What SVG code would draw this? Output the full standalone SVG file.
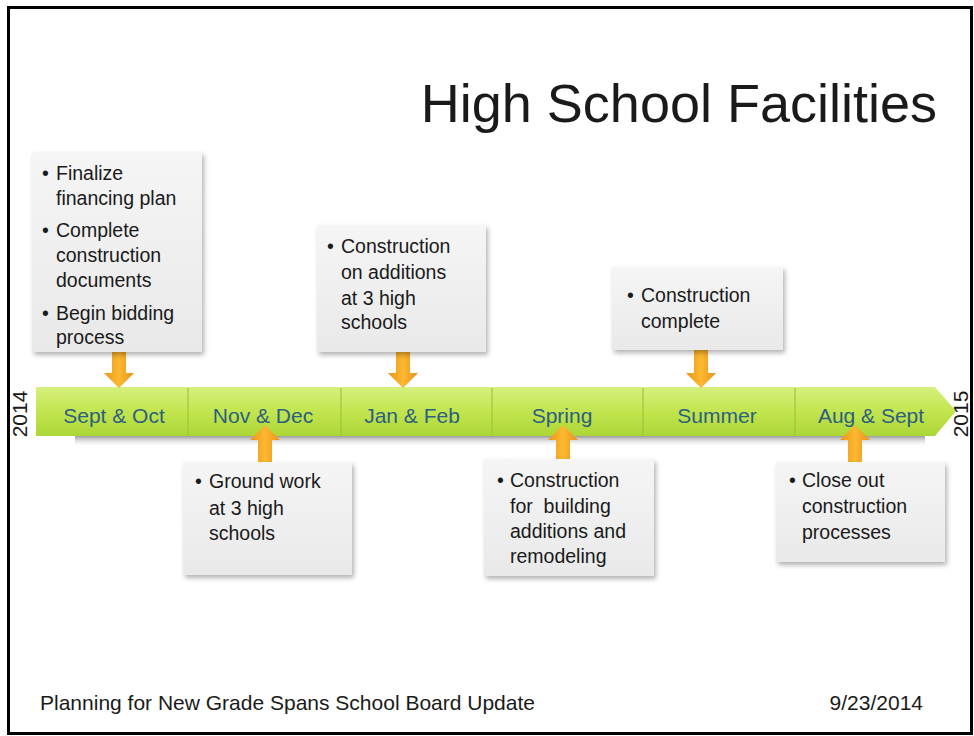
<svg xmlns="http://www.w3.org/2000/svg" width="974" height="736" viewBox="0 0 974 736">
<defs>
<style>
.t{font-family:"Liberation Sans",Arial,sans-serif;fill:#1a1a1a}
.box{font-size:19.5px}
.lbl{font-family:"Liberation Sans",Arial,sans-serif;font-size:21px;fill:#2d5f80;text-anchor:middle}
.card{fill:url(#cardG);filter:url(#sh)}
.arr{fill:url(#orG)}
.sep{stroke:#9cc63c;stroke-width:1.2}
</style>
<linearGradient id="barG" x1="0" y1="0" x2="0" y2="1">
<stop offset="0" stop-color="#d6f07e"/>
<stop offset="0.5" stop-color="#c2e54f"/>
<stop offset="1" stop-color="#acd637"/>
</linearGradient>
<linearGradient id="shadG" x1="0" y1="0" x2="0" y2="1">
<stop offset="0" stop-color="#9a9a9a"/>
<stop offset="1" stop-color="#ffffff" stop-opacity="0"/>
</linearGradient>
<linearGradient id="cardG" x1="0" y1="0" x2="0" y2="1">
<stop offset="0" stop-color="#f5f5f5"/>
<stop offset="1" stop-color="#e9e9e9"/>
</linearGradient>
<linearGradient id="orG" x1="0" y1="0" x2="1" y2="0">
<stop offset="0" stop-color="#ee9418"/>
<stop offset="0.5" stop-color="#fbb930"/>
<stop offset="1" stop-color="#ec9018"/>
</linearGradient>
<filter id="sh" x="-10%" y="-10%" width="125%" height="125%">
<feDropShadow dx="2" dy="3" stdDeviation="2.5" flood-color="#000" flood-opacity="0.3"/>
</filter>
</defs>
<rect x="0" y="0" width="974" height="736" fill="#ffffff"/>
<rect x="8.5" y="7.5" width="963" height="726" fill="none" stroke="#000" stroke-width="3"/>

<text class="t" x="937" y="122" font-size="54" text-anchor="end">High School Facilities</text>

<g id="timeline">
<rect x="75" y="436" width="850" height="11" fill="url(#shadG)"/>
<polygon points="36,387 935,387 956,411 935,436 36,436" fill="url(#barG)"/>
<line class="sep" x1="188" y1="388" x2="188" y2="435"/>
<line class="sep" x1="341" y1="388" x2="341" y2="435"/>
<line class="sep" x1="492" y1="388" x2="492" y2="435"/>
<line class="sep" x1="643" y1="388" x2="643" y2="435"/>
<line class="sep" x1="795" y1="388" x2="795" y2="435"/>
<text class="lbl" x="114" y="423">Sept &amp; Oct</text>
<text class="lbl" x="263" y="423">Nov &amp; Dec</text>
<text class="lbl" x="412" y="423">Jan &amp; Feb</text>
<text class="lbl" x="562" y="423">Spring</text>
<text class="lbl" x="717" y="423">Summer</text>
<text class="lbl" x="871" y="423">Aug &amp; Sept</text>
</g>

<text class="t" font-size="21" text-anchor="middle" transform="translate(27,414) rotate(-90)">2014</text>
<text class="t" font-size="21" text-anchor="middle" transform="translate(968,414) rotate(-90)">2015</text>

<g id="connectors">
<polygon class="arr" points="112,352 126,352 126,373 134,373 119,388 104,373 112,373"/>
<polygon class="arr" points="396,352 410,352 410,373 418,373 403,388 388,373 396,373"/>
<polygon class="arr" points="694,350 708,350 708,373 716,373 701,388 686,373 694,373"/>
<polygon class="arr" points="258,462 272,462 272,440 280,440 265,425 250,440 258,440"/>
<polygon class="arr" points="556,459 570,459 570,440 578,440 563,425 548,440 556,440"/>
<polygon class="arr" points="848,462 862,462 862,440 870,440 855,425 840,440 848,440"/>
</g>

<g id="n1">
<rect class="card" x="32" y="152" width="170" height="200"/>
<text class="t box"><tspan x="42" y="180">•</tspan><tspan x="56" y="180">Finalize</tspan><tspan x="56" y="205">financing plan</tspan><tspan x="42" y="237">•</tspan><tspan x="56" y="237">Complete</tspan><tspan x="56" y="262">construction</tspan><tspan x="56" y="287">documents</tspan><tspan x="42" y="320">•</tspan><tspan x="56" y="320">Begin bidding</tspan><tspan x="56" y="344">process</tspan></text>
</g>

<g id="n2">
<rect class="card" x="183" y="462" width="169" height="113"/>
<text class="t box"><tspan x="195" y="488">•</tspan><tspan x="209" y="488">Ground work</tspan><tspan x="209" y="515">at 3 high</tspan><tspan x="209" y="540">schools</tspan></text>
</g>

<g id="n3">
<rect class="card" x="317" y="225" width="169" height="127"/>
<text class="t box"><tspan x="327" y="253">•</tspan><tspan x="341" y="253">Construction</tspan><tspan x="341" y="279">on additions</tspan><tspan x="341" y="305">at 3 high</tspan><tspan x="341" y="329">schools</tspan></text>
</g>

<g id="n4">
<rect class="card" x="612" y="267" width="171" height="83"/>
<text class="t box"><tspan x="627" y="302">•</tspan><tspan x="641" y="302">Construction</tspan><tspan x="641" y="328">complete</tspan></text>
</g>

<g id="n5">
<rect class="card" x="484" y="459" width="170" height="117"/>
<text class="t box"><tspan x="497" y="487">•</tspan><tspan x="510" y="487" xml:space="preserve">Construction</tspan><tspan x="510" y="513" xml:space="preserve">for  building</tspan><tspan x="510" y="538">additions and</tspan><tspan x="510" y="563">remodeling</tspan></text>
</g>

<g id="n6">
<rect class="card" x="776" y="462" width="169" height="100"/>
<text class="t box"><tspan x="789" y="487">•</tspan><tspan x="802" y="487">Close out</tspan><tspan x="802" y="513">construction</tspan><tspan x="802" y="539">processes</tspan></text>
</g>

<text class="t" x="40" y="710" font-size="21">Planning for New Grade Spans School Board Update</text>
<text class="t" x="923" y="710" font-size="21" text-anchor="end">9/23/2014</text>
</svg>
